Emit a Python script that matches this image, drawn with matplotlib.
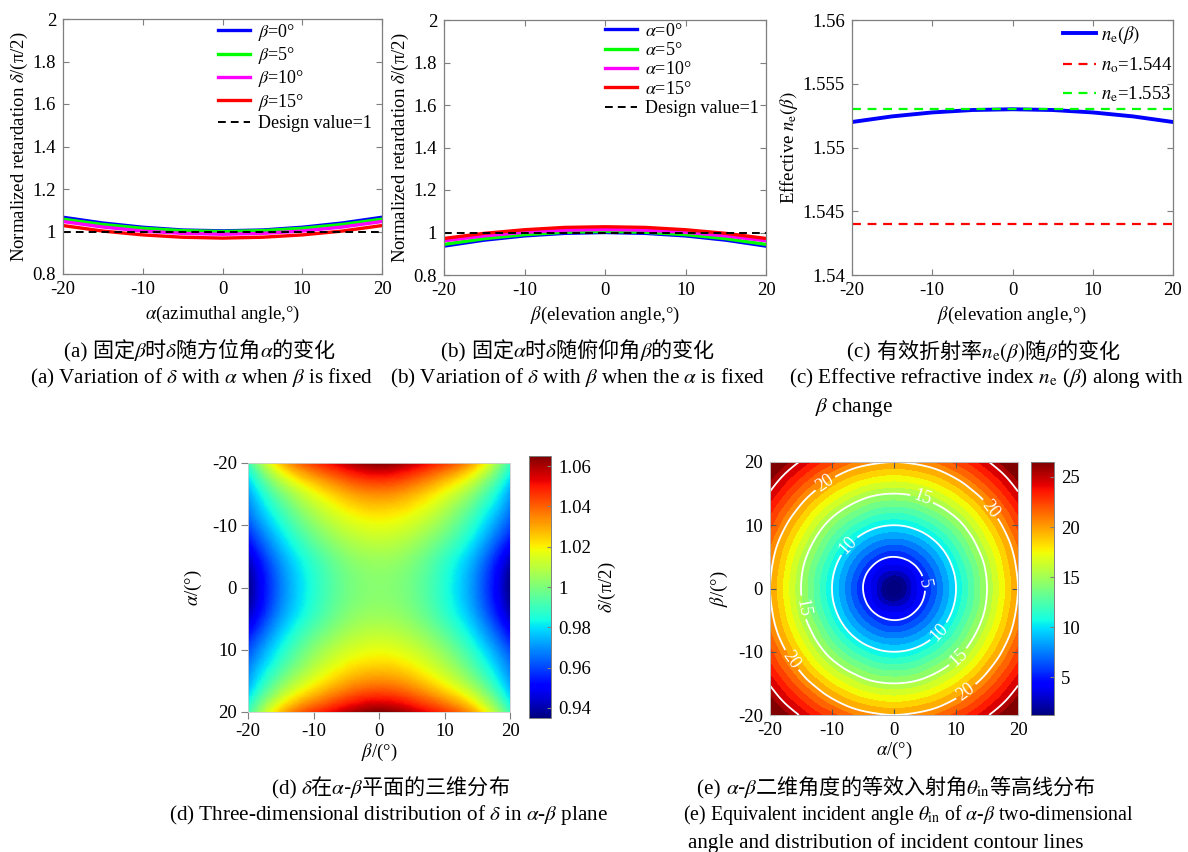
import numpy as np
import matplotlib
matplotlib.use("Agg")
import matplotlib.pyplot as plt
import matplotlib.tri as mtri
from matplotlib.colors import Normalize
from matplotlib.cm import ScalarMappable
from matplotlib.offsetbox import TextArea, HPacker, AnnotationBbox
from matplotlib.ticker import FuncFormatter

plt.rcParams['font.family'] = ['Liberation Serif']
plt.rcParams['mathtext.fontset'] = 'stix'
plt.rcParams['font.size'] = 13

# ---------------- data ----------------
angles = [-20, -15, -10, -5, 0, 5, 10, 15, 20]

# (a) delta vs alpha for fixed beta
fixed_beta = [0, 5, 10, 15]
delta_a_b0 = [1.067, 1.040, 1.020, 1.007, 1.003, 1.007, 1.020, 1.040, 1.067]
delta_a_b5 = [1.058, 1.033, 1.015, 1.004, 1.000, 1.004, 1.015, 1.033, 1.058]
delta_a_b10 = [1.047, 1.021, 1.002, 0.991, 0.987, 0.991, 1.002, 1.021, 1.047]
delta_a_b15 = [1.028, 1.002, 0.984, 0.973, 0.969, 0.973, 0.984, 1.002, 1.028]

# (b) delta vs beta for fixed alpha
fixed_alpha = [0, 5, 10, 15]
delta_b_a0 = [0.936, 0.964, 0.984, 0.996, 1.000, 0.996, 0.984, 0.964, 0.936]
delta_b_a5 = [0.944, 0.971, 0.990, 1.001, 1.005, 1.001, 0.990, 0.971, 0.944]
delta_b_a10 = [0.961, 0.984, 1.001, 1.011, 1.014, 1.011, 1.001, 0.984, 0.961]
delta_b_a15 = [0.972, 0.996, 1.013, 1.024, 1.027, 1.024, 1.013, 0.996, 0.972]
design_value = 1.0

# (c) effective index
ne_beta = [1.5520, 1.55244, 1.55275, 1.55294, 1.5530, 1.55294, 1.55275, 1.55244, 1.5520]
n_o = 1.544
n_e = 1.553

# (d) delta over alpha-beta plane (one quadrant, alpha rows 0..20, beta cols 0..20)
quad5 = [0, 5, 10, 15, 20]
delta_quadrant = [
    [1.002, 0.998, 0.986, 0.967, 0.936],
    [1.006, 1.002, 0.990, 0.972, 0.944],
    [1.017, 1.013, 1.002, 0.984, 0.961],
    [1.034, 1.029, 1.017, 0.999, 0.972],
    [1.065, 1.058, 1.046, 1.027, 0.990],
]

# (e) equivalent incident angle (one quadrant, beta rows 0..20, alpha cols 0..20)
quad25 = [0, 2.5, 5, 7.5, 10, 12.5, 15, 17.5, 20]
theta_quadrant = [
    [0.0, 2.5, 5.0, 7.5, 10.0, 12.5, 15.0, 17.5, 20.0],
    [2.5, 3.5, 5.6, 7.9, 10.3, 12.7, 15.2, 17.7, 20.2],
    [5.0, 5.6, 7.1, 9.0, 11.2, 13.5, 15.8, 18.2, 20.6],
    [7.5, 7.9, 9.0, 10.6, 12.5, 14.6, 16.8, 19.0, 21.3],
    [10.0, 10.3, 11.2, 12.5, 14.1, 16.0, 18.0, 20.1, 22.3],
    [12.5, 12.7, 13.5, 14.6, 16.0, 17.6, 19.5, 21.4, 23.4],
    [15.0, 15.2, 15.8, 16.8, 18.0, 19.5, 21.1, 22.9, 24.8],
    [17.5, 17.7, 18.2, 19.0, 20.1, 21.4, 22.9, 24.5, 26.3],
    [20.0, 20.2, 20.6, 21.3, 22.3, 23.4, 24.8, 26.3, 28.0],
]
contour_levels = [5, 10, 15, 20, 25]

# ---------------- helpers ----------------
W, H = 1188, 852
fig = plt.figure(figsize=(W / 100, H / 100), dpi=100)

def ax_px(l, t, r, b):
    return fig.add_axes([l / W, 1 - b / H, (r - l) / W, (b - t) / H])

gfmt = FuncFormatter(lambda v, p: '%g' % round(v, 6))
SPINE = '#7f7f7f'
TICK = 13.5
LBL = 13.5

def style_line_axes(ax):
    ax.tick_params(direction='in', top=True, right=True, length=4, width=0.8,
                   color=SPINE, labelsize=TICK, pad=5)
    for s in ax.spines.values():
        s.set_color(SPINE)
        s.set_linewidth(0.9)
    ax.yaxis.set_major_formatter(gfmt)
    ax.xaxis.set_major_formatter(gfmt)

def mirror(q, coords):
    q = np.asarray(q, dtype=float)
    full = np.vstack([q[:0:-1], q])
    full = np.hstack([full[:, :0:-1], full])
    c = np.asarray(coords, dtype=float)
    fc = np.concatenate([-c[:0:-1], c])
    return fc, full

def refined(fc, full, subdiv):
    X, Y = np.meshgrid(fc, fc)  # X: column coordinate, Y: row coordinate
    n = len(fc)
    tris = []
    for i in range(n - 1):
        for j in range(n - 1):
            a = i * n + j
            tris.append([a, a + 1, a + n + 1])
            tris.append([a, a + n + 1, a + n])
    tri = mtri.Triangulation(X.ravel(), Y.ravel(), np.array(tris))
    ref = mtri.UniformTriRefiner(tri)
    return ref.refine_field(full.ravel(), subdiv=subdiv)

line_colors = ['#0000ff', '#00ff00', '#ff00ff', '#ff0000']
leg_kw = dict(frameon=False, fontsize=13, handlelength=1.75, handletextpad=0.45,
              labelspacing=0.13, borderpad=0, borderaxespad=0)

# ---------------- (a) ----------------
axa = ax_px(63, 19, 382, 274)
for vals, b, c in zip([delta_a_b0, delta_a_b5, delta_a_b10, delta_a_b15], fixed_beta, line_colors):
    axa.plot(angles, vals, color=c, lw=2.4, label=r'$\beta$=%d°' % b)
axa.plot([angles[0], angles[-1]], [design_value, design_value], color='k', lw=1.4,
         ls=(0, (4, 2.6)), label='Design value=1')
axa.set_xlim(-20, 20)
axa.set_ylim(0.8, 2.0)
axa.set_xticks([-20, -10, 0, 10, 20])
axa.set_yticks([0.8, 1.0, 1.2, 1.4, 1.6, 1.8, 2.0])
style_line_axes(axa)
axa.set_xlabel(r'$\alpha$(azimuthal angle,°)', fontsize=LBL, labelpad=4)
axa.set_ylabel(r'Normalized retardation $\delta$/(π/2)', fontsize=LBL, labelpad=2)
axa.legend(loc='upper left', bbox_to_anchor=(0.486, 0.99), **leg_kw)

# ---------------- (b) ----------------
axb = ax_px(444, 20, 766, 275)
for vals, a, c in zip([delta_b_a0, delta_b_a5, delta_b_a10, delta_b_a15], fixed_alpha, line_colors):
    axb.plot(angles, vals, color=c, lw=2.4, label=r'$\alpha$=%d°' % a)
axb.plot([angles[0], angles[-1]], [design_value, design_value], color='k', lw=1.4,
         ls=(0, (4, 2.6)), label='Design value=1')
axb.set_xlim(-20, 20)
axb.set_ylim(0.8, 2.0)
axb.set_xticks([-20, -10, 0, 10, 20])
axb.set_yticks([0.8, 1.0, 1.2, 1.4, 1.6, 1.8, 2.0])
style_line_axes(axb)
axb.set_xlabel(r'$\beta$(elevation angle,°)', fontsize=LBL, labelpad=4)
axb.set_ylabel(r'Normalized retardation $\delta$/(π/2)', fontsize=LBL, labelpad=2)
axb.legend(loc='upper left', bbox_to_anchor=(0.5, 0.99), **leg_kw)

# ---------------- (c) ----------------
axc = ax_px(852, 20, 1173, 275)
axc.plot(angles, ne_beta, color='#0000ff', lw=2.8, label=r'$n_\mathrm{e}(\beta)$')
axc.plot([angles[0], angles[-1]], [n_o, n_o], color='#ff0000', lw=1.6, ls=(0, (4, 3)),
         label=r'$n_\mathrm{o}$=1.544')
axc.plot([angles[0], angles[-1]], [n_e, n_e], color='#00ff00', lw=1.6, ls=(0, (4, 3)),
         label=r'$n_\mathrm{e}$=1.553')
axc.set_xlim(-20, 20)
axc.set_ylim(1.54, 1.56)
axc.set_xticks([-20, -10, 0, 10, 20])
axc.set_yticks([1.54, 1.545, 1.55, 1.555, 1.56])
style_line_axes(axc)
axc.set_xlabel(r'$\beta$(elevation angle,°)', fontsize=LBL, labelpad=4)
axc.set_ylabel(r'Effective $n_\mathrm{e}(\beta)$', fontsize=LBL, labelpad=2)
axc.legend(loc='upper left', bbox_to_anchor=(0.657, 0.985), frameon=False, fontsize=13.5,
           handlelength=1.75, handletextpad=0.3, labelspacing=0.5, borderpad=0,
           borderaxespad=0)

# ---------------- (d) ----------------
axd = ax_px(248, 463, 510, 712)
fc_d, full_d = mirror(delta_quadrant, quad5)
# rows are alpha, columns beta -> x = beta, y = alpha
tri_d, z_d = refined(fc_d, full_d, 4)
d_norm = Normalize(0.935, 1.065)
axd.tripcolor(tri_d, z_d, shading='gouraud', cmap='jet', norm=d_norm, rasterized=True)
axd.set_xlim(-20, 20)
axd.set_ylim(20, -20)
axd.set_xticks([-20, -10, 0, 10, 20])
axd.set_yticks([-20, -10, 0, 10, 20])
axd.tick_params(direction='out', length=5, width=0.8, color=SPINE, labelsize=TICK, pad=3)
for s in axd.spines.values():
    s.set_color('#cfcfcf')
    s.set_linewidth(0.6)
axd.xaxis.set_major_formatter(gfmt)
axd.yaxis.set_major_formatter(gfmt)
axd.set_xlabel(r'$\beta$/(°)', fontsize=LBL, labelpad=1)
axd.set_ylabel(r'$\alpha$/(°)', fontsize=LBL, labelpad=6)

caxd = ax_px(529, 456, 551, 718)
cbd = fig.colorbar(ScalarMappable(norm=d_norm, cmap='jet'), cax=caxd)
cbd.set_ticks([0.94, 0.96, 0.98, 1.0, 1.02, 1.04, 1.06])
cbd.ax.yaxis.set_major_formatter(gfmt)
cbd.ax.tick_params(direction='in', length=3, color=SPINE, labelsize=TICK, pad=5)
cbd.outline.set_edgecolor(SPINE)
cbd.outline.set_linewidth(0.7)
cbd.set_label(r'$\delta$/(π/2)', fontsize=LBL, labelpad=4)

# ---------------- (e) ----------------
axe = ax_px(770, 462, 1018, 715)
fc_e, full_e = mirror(theta_quadrant, quad25)
tri_e, z_e = refined(fc_e, full_e, 3)
e_norm = Normalize(1.2, 26.5)
axe.tricontourf(tri_e, z_e, levels=np.arange(0, 30, 1), cmap='jet', norm=e_norm)
cs = axe.tricontour(tri_e, z_e, levels=contour_levels, colors='white', linewidths=1.3)
axe.clabel(cs, levels=[5, 10, 15, 20], inline=True, fontsize=13, colors='white', fmt='%d',
           inline_spacing=3,
           manual=[(4.8, 0.8), (-7.0, 6.5), (7.2, -6.8), (4.5, 14.3), (-14.6, -3.0),
                   (10.0, -10.5), (-11.0, 16.5), (15.5, 12.5), (-16.8, -11.5), (11.8, -16.5)])
axe.set_xlim(-20, 20)
axe.set_ylim(-20, 20)
axe.set_xticks([-20, -10, 0, 10, 20])
axe.set_yticks([-20, -10, 0, 10, 20])
axe.tick_params(direction='in', top=True, right=True, length=4, width=0.8, color='#555555',
                labelsize=TICK, pad=5)
for s in axe.spines.values():
    s.set_color('#bfbfbf')
    s.set_linewidth(0.7)
axe.xaxis.set_major_formatter(gfmt)
axe.yaxis.set_major_formatter(gfmt)
axe.set_xlabel(r'$\alpha$/(°)', fontsize=LBL, labelpad=1)
axe.set_ylabel(r'$\beta$/(°)', fontsize=LBL, labelpad=6)

caxe = ax_px(1031, 462, 1054, 715)
cbe = fig.colorbar(ScalarMappable(norm=e_norm, cmap='jet'), cax=caxe)
cbe.set_ticks([5, 10, 15, 20, 25])
cbe.ax.tick_params(direction='in', length=3, color=SPINE, labelsize=TICK, pad=5)
cbe.outline.set_edgecolor(SPINE)
cbe.outline.set_linewidth(0.7)

# ---------------- captions ----------------
CJK = ['Noto Sans CJK SC']
SERIF = ['Liberation Serif']

def caption_cn(x, y, lead, rest, size=15.2):
    children = [TextArea(lead, textprops=dict(family=SERIF, size=size)),
                TextArea(rest, textprops=dict(family=CJK, size=size))]
    box = HPacker(children=children, align='baseline', pad=0, sep=0)
    ab = AnnotationBbox(box, (x / W, 1 - y / H), xycoords='figure fraction',
                        frameon=False, box_alignment=(0.5, 0.5), pad=0)
    fig.add_artist(ab)

def caption_en(x, y, s, ha='center', size=15.2):
    fig.text(x / W, 1 - y / H, s, ha=ha, va='center', fontsize=size, family=SERIF)

caption_cn(200, 350, '(a) ', r'固定$\beta$时$\delta$随方位角$\alpha$的变化')
caption_en(201, 378, r'(a) Variation of $\delta$ with $\alpha$ when $\beta$ is fixed')
caption_cn(578, 350, '(b) ', r'固定$\alpha$时$\delta$随俯仰角$\beta$的变化')
caption_en(578, 378, r'(b) Variation of $\delta$ with $\beta$ when the $\alpha$ is fixed')
caption_cn(984, 350, '(c) ', r'有效折射率$n_\mathrm{e}(\beta)$随$\beta$的变化')
caption_en(789, 378, r'(c) Effective refractive index $n_\mathrm{e}$ ($\beta$) along with', ha='left')
caption_en(815, 407, r'$\beta$ change', ha='left')
caption_cn(391, 787, '(d) ', r'$\delta$在$\alpha$-$\beta$平面的三维分布')
caption_en(388, 815, r'(d) Three-dimensional distribution of $\delta$ in $\alpha$-$\beta$ plane')
caption_cn(896, 787, '(e) ', r'$\alpha$-$\beta$二维角度的等效入射角$\theta_\mathrm{in}$等高线分布')
caption_en(683, 815, r'(e) Equivalent incident angle $\theta_\mathrm{in}$ of $\alpha$-$\beta$ two-dimensional',
           ha='left', size=14.3)
caption_en(688, 843, r'angle and distribution of incident contour lines', ha='left')

fig.savefig('out.png', dpi=100)
